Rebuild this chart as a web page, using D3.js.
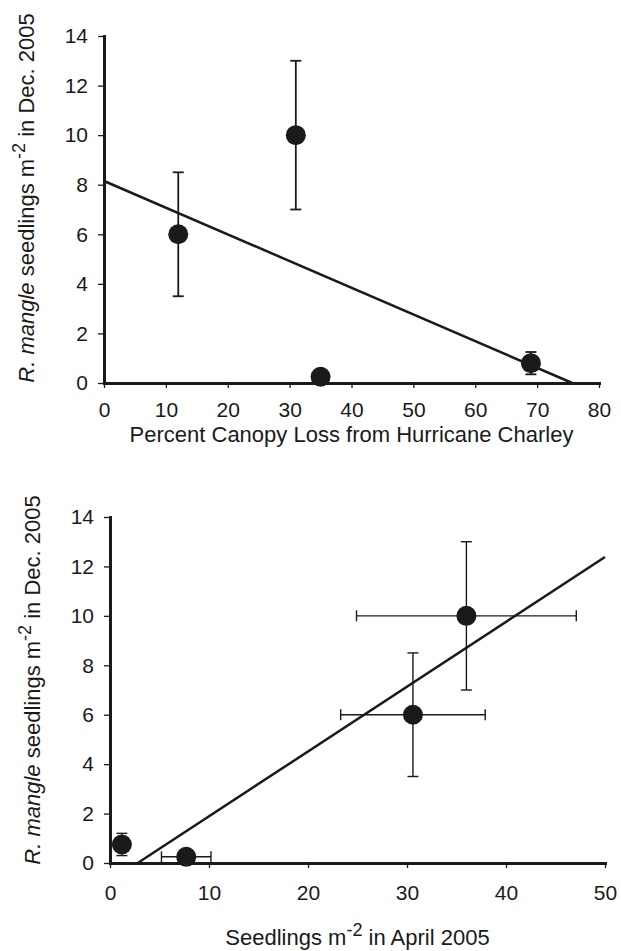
<!DOCTYPE html>
<html>
<head>
<meta charset="utf-8">
<script src="https://cdnjs.cloudflare.com/ajax/libs/d3/7.8.5/d3.min.js"></script>
<style>
    body { margin: 0; background: #fff; }
    svg { display: block; font-family: "Liberation Sans", Arial, sans-serif; }
</style>
</head>
<body>
<svg id="chart" width="621" height="951"></svg>
<script>
// top panel: canopy loss vs seedlings in Dec. 2005
var canopyLoss = [12, 31, 35, 69];
var canopyDec = [6, 10, 0.25, 0.8];
var canopyDecErr = [2.5, 3, 0, 0.45];
var canopyFit = [8.15, -0.1077]; // intercept, slope

// bottom panel: April 2005 seedlings vs Dec. 2005 seedlings
var aprilSeedlings = [1.2, 7.7, 30.6, 36];
var aprilErr = [0, 2.5, 7.3, 11.1];
var aprilDec = [0.75, 0.25, 6, 10];
var aprilDecErr = [0.45, 0, 2.5, 3];
var aprilFit = [-0.734, 0.2623];

var yTicks = [0, 2, 4, 6, 8, 10, 12, 14];
var canopyTicks = [0, 10, 20, 30, 40, 50, 60, 70, 80];
var aprilTicks = [0, 10, 20, 30, 40, 50];

var ink = "#1a1a1a";

function ScatterPanel(svg, opts) {
    this.svg = svg;
    this.opts = opts;
    this.x = d3.scaleLinear().domain(opts.xDomain).range(opts.xRange);
    this.y = d3.scaleLinear().domain([0, 14]).range(opts.yRange);
}

ScatterPanel.prototype.Draw = function () {
    var me = this;
    var o = me.opts;
    var g = me.svg.append("g");

    // axes
    var xAxis = d3.axisBottom(me.x).tickValues(o.xTicks).tickSize(5).tickPadding(o.xPad).tickSizeOuter(0);
    var yAxis = d3.axisLeft(me.y).tickValues(yTicks).tickSize(6).tickPadding(10).tickSizeOuter(0);

    var xg = g.append("g").attr("transform", "translate(0," + o.yRange[0] + ")").call(xAxis);
    var yg = g.append("g").attr("transform", "translate(" + o.xRange[0] + ",0)").call(yAxis);

    [xg, yg].forEach(function (a) {
        a.select(".domain").attr("stroke", ink).attr("stroke-width", 3).attr("stroke-linecap", "square");
        a.selectAll(".tick line").attr("stroke", ink).attr("stroke-width", 1.3);
        a.selectAll(".tick text").attr("fill", ink).style("font-size", "21px").style("font-family", null);
    });

    // regression line, cut where it meets zero
    var a = o.fit[0], b = o.fit[1];
    var xs = o.xDomain[0], xe = o.xDomain[1];
    var xZero = -a / b;
    if (b < 0) { xe = Math.min(xe, xZero); } else { xs = Math.max(xs, xZero); }
    g.append("line")
        .attr("x1", me.x(xs)).attr("y1", me.y(a + b * xs))
        .attr("x2", me.x(xe)).attr("y2", me.y(a + b * xe))
        .attr("stroke", ink).attr("stroke-width", 2.5);

    var pts = o.xs.map(function (v, i) {
        return { x: v, y: o.ys[i], ex: o.xErr ? o.xErr[i] : 0, ey: o.yErr[i] };
    });
    var cap = 5.5;

    // vertical error bars
    var vbars = g.selectAll(".vbar").data(pts.filter(function (d) { return d.ey > 0; }))
        .enter().append("g").classed("vbar", true)
        .attr("stroke", ink).attr("stroke-width", o.errWidth);
    vbars.append("line")
        .attr("x1", function (d) { return me.x(d.x); }).attr("x2", function (d) { return me.x(d.x); })
        .attr("y1", function (d) { return me.y(d.y - d.ey); }).attr("y2", function (d) { return me.y(d.y + d.ey); });
    [-1, 1].forEach(function (s) {
        vbars.append("line")
            .attr("x1", function (d) { return me.x(d.x) - cap; }).attr("x2", function (d) { return me.x(d.x) + cap; })
            .attr("y1", function (d) { return me.y(d.y + s * d.ey); }).attr("y2", function (d) { return me.y(d.y + s * d.ey); });
    });

    // horizontal error bars
    var hbars = g.selectAll(".hbar").data(pts.filter(function (d) { return d.ex > 0; }))
        .enter().append("g").classed("hbar", true)
        .attr("stroke", ink).attr("stroke-width", o.errWidth);
    hbars.append("line")
        .attr("y1", function (d) { return me.y(d.y); }).attr("y2", function (d) { return me.y(d.y); })
        .attr("x1", function (d) { return me.x(d.x - d.ex); }).attr("x2", function (d) { return me.x(d.x + d.ex); });
    [-1, 1].forEach(function (s) {
        hbars.append("line")
            .attr("y1", function (d) { return me.y(d.y) - cap; }).attr("y2", function (d) { return me.y(d.y) + cap; })
            .attr("x1", function (d) { return me.x(d.x + s * d.ex); }).attr("x2", function (d) { return me.x(d.x + s * d.ex); });
    });

    g.selectAll(".pt").data(pts).enter().append("circle").classed("pt", true)
        .attr("cx", function (d) { return me.x(d.x); })
        .attr("cy", function (d) { return me.y(d.y); })
        .attr("r", 10)
        .attr("fill", ink);

    // y title
    var yt = g.append("text")
        .attr("transform", "translate(" + o.yTitlePos[0] + "," + o.yTitlePos[1] + ") rotate(-90)")
        .attr("text-anchor", "middle")
        .attr("fill", ink)
        .style("font-size", "22px");
    yt.append("tspan").style("font-style", "italic").text("R. mangle");
    yt.append("tspan").text(" seedlings m");
    yt.append("tspan").attr("dy", -9).style("font-size", "18px").text("-2");
    yt.append("tspan").attr("dy", 9).text(" in Dec. 2005");

    // x title
    var xt = g.append("text")
        .attr("x", (o.xRange[0] + o.xRange[1]) / 2)
        .attr("y", o.xTitleY)
        .attr("text-anchor", "middle")
        .attr("fill", ink)
        .style("font-size", "22px");
    o.xTitle.forEach(function (part) {
        var t = xt.append("tspan").text(part.text);
        if (part.sup) { t.attr("dy", -9).style("font-size", "18px"); }
        if (part.down) { t.attr("dy", 9); }
    });
};

var svg = d3.select("#chart");

var topPanel = new ScatterPanel(svg, {
    xDomain: [0, 80], xRange: [104, 599], yRange: [383, 36], xTicks: canopyTicks, xPad: 14,
    xs: canopyLoss, ys: canopyDec, yErr: canopyDecErr, fit: canopyFit, errWidth: 1.8,
    yTitlePos: [34, 198], xTitleY: 442,
    xTitle: [{ text: "Percent Canopy Loss from Hurricane Charley" }]
});
topPanel.Draw();

var bottomPanel = new ScatterPanel(svg, {
    xDomain: [0, 50], xRange: [110, 605], yRange: [863, 517], xTicks: aprilTicks, xPad: 17,
    xs: aprilSeedlings, ys: aprilDec, xErr: aprilErr, yErr: aprilDecErr, fit: aprilFit, errWidth: 1.4,
    yTitlePos: [40, 680], xTitleY: 945,
    xTitle: [{ text: "Seedlings m" }, { text: "-2", sup: true }, { text: " in April 2005", down: true }]
});
bottomPanel.Draw();
</script>
</body>
</html>
